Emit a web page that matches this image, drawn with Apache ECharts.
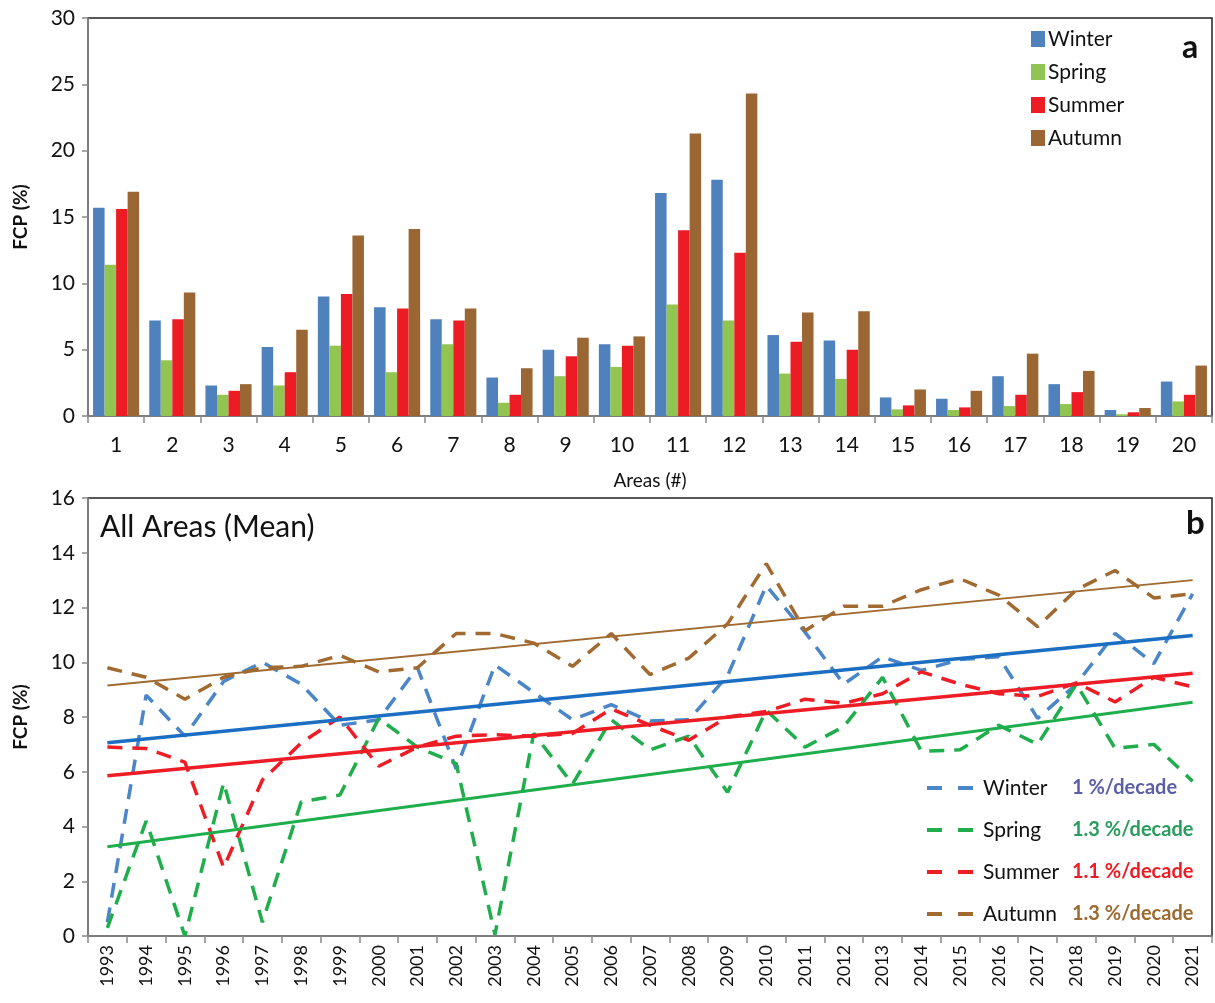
<!DOCTYPE html>
<html>
<head>
<meta charset="utf-8">
<script src="https://cdn.jsdelivr.net/npm/echarts@6/dist/echarts.min.js"></script>
<style>
html,body{margin:0;padding:0;background:#fff;}
#chart{width:1215px;height:1003px;}
</style>
</head>
<body>
<div id="chart"></div>
<script>
// ---- Panel a: FCP by area ----
const areas = ['1','2','3','4','5','6','7','8','9','10','11','12','13','14','15','16','17','18','19','20'];
const winterBars = [15.7, 7.2, 2.3, 5.2, 9.0, 8.2, 7.3, 2.9, 5.0, 5.4, 16.8, 17.8, 6.1, 5.7, 1.4, 1.3, 3.0, 2.4, 0.45, 2.6];
const springBars = [11.4, 4.2, 1.6, 2.3, 5.3, 3.3, 5.4, 1.0, 3.0, 3.7, 8.4, 7.2, 3.2, 2.8, 0.5, 0.45, 0.75, 0.9, 0.13, 1.1];
const summerBars = [15.6, 7.3, 1.9, 3.3, 9.2, 8.1, 7.2, 1.6, 4.5, 5.3, 14.0, 12.3, 5.6, 5.0, 0.8, 0.65, 1.6, 1.8, 0.28, 1.6];
const autumnBars = [16.9, 9.3, 2.4, 6.5, 13.6, 14.1, 8.1, 3.6, 5.9, 6.0, 21.3, 24.3, 7.8, 7.9, 2.0, 1.9, 4.7, 3.4, 0.6, 3.8];
const areaTicks = [0, 5, 10, 15, 20, 25, 30];

// ---- Panel b: all areas mean by year ----
const years = ['1993','1994','1995','1996','1997','1998','1999','2000','2001','2002','2003','2004','2005','2006','2007','2008','2009','2010','2011','2012','2013','2014','2015','2016','2017','2018','2019','2020','2021'];
const winterMean = [0.5, 8.8, 7.3, 9.3, 10.0, 9.2, 7.7, 7.9, 9.8, 6.1, 9.9, 8.9, 7.9, 8.45, 7.85, 7.9, 9.5, 12.8, 11.1, 9.2, 10.2, 9.7, 10.1, 10.2, 7.95, 9.2, 11.05, 9.95, 12.5];
const springMean = [0.3, 4.2, 0.0, 5.6, 0.5, 4.9, 5.15, 7.95, 6.9, 6.3, 0.05, 7.4, 5.55, 7.9, 6.8, 7.3, 5.25, 8.25, 6.9, 7.65, 9.45, 6.75, 6.8, 7.7, 7.0, 9.2, 6.85, 7.0, 5.65];
const summerMean = [6.9, 6.85, 6.35, 2.5, 5.7, 7.05, 8.0, 6.2, 6.9, 7.3, 7.35, 7.3, 7.4, 8.3, 7.7, 7.15, 8.0, 8.2, 8.65, 8.5, 8.85, 9.65, 9.2, 8.85, 8.75, 9.25, 8.55, 9.45, 9.1];
const autumnMean = [9.8, 9.45, 8.65, 9.45, 9.8, 9.85, 10.25, 9.65, 9.8, 11.05, 11.05, 10.7, 9.85, 11.05, 9.55, 10.15, 11.4, 13.6, 11.15, 12.05, 12.05, 12.65, 13.05, 12.45, 11.3, 12.65, 13.35, 12.35, 12.5];
// trend line end values (1993, 2021)
const winterTrend = [7.06, 10.98];
const springTrend = [3.26, 8.54];
const summerTrend = [5.85, 9.6];
const autumnTrend = [9.15, 13.0];
const rates = ['1 %/decade', '1.3 %/decade', '1.1 %/decade', '1.3 %/decade'];
const meanTicks = [0, 2, 4, 6, 8, 10, 12, 14, 16];

const FONT = 'Lato';
const C = {
  wBar: '#4F81BD', sBar: '#92C452', suBar: '#ED1C24', aBar: '#9A6633',
  wLine: '#4A86C8', wTrend: '#1B6EC2', sLine: '#1FAE4B', suLine: '#EE1C25', aLine: '#A06A30',
  wRate: '#5C5EA8', sRate: '#2A9C5E', suRate: '#ED1C24', aRate: '#9C6A30'
};
const DASH_ICON = 'path://M0,0 H15 V4 H0 Z M31,0 H46 V4 H31 Z';

function trendData(t){ return [[years[0], t[0]], [years[years.length-1], t[1]]]; }
function dashed(name, data, color){
  return { name: name, type: 'line', xAxisIndex: 1, yAxisIndex: 1, data: data, symbol: 'none',
    z: 3, lineStyle: { color: color, width: 3.5, type: [15, 10] }, itemStyle: { color: color } };
}
function trend(name, t, color, w){
  return { name: name, type: 'line', xAxisIndex: 1, yAxisIndex: 1, data: trendData(t), symbol: 'none',
    z: 4, lineStyle: { color: color, width: w, type: 'solid' }, silent: true };
}
function bar(name, data, color){
  return { name: name, type: 'bar', xAxisIndex: 0, yAxisIndex: 0, data: data, barGap: '0%', barCategoryGap: '18%',
    itemStyle: { color: color } };
}

const chart = echarts.init(document.getElementById('chart'), null, { renderer: 'canvas' });
const axisLineGray = { show: true, lineStyle: { color: '#8a8a8a', width: 1.5 } };
const meanNames = ['Winter mean', 'Spring mean', 'Summer mean', 'Autumn mean'];

const option = {
  backgroundColor: '#fff',
  animation: false,
  textStyle: { fontFamily: FONT },
  grid: [
    { left: 88, right: 3, top: 18, height: 398, show: true, borderColor: '#222', borderWidth: 1.5, backgroundColor: 'transparent' },
    { left: 88, right: 3, top: 498, height: 438, show: true, borderColor: '#222', borderWidth: 1.5, backgroundColor: 'transparent' }
  ],
  xAxis: [
    { type: 'category', gridIndex: 0, data: areas, boundaryGap: true,
      axisLine: axisLineGray, axisTick: { show: true, inside: false, length: 7, lineStyle: { color: '#8a8a8a', width: 1.5 } },
      axisLabel: { fontSize: 21, color: '#111', margin: 19, fontFamily: FONT },
      name: 'Areas (#)', nameLocation: 'middle', nameGap: 55,
      nameTextStyle: { fontSize: 19, color: '#111', fontFamily: FONT } },
    { type: 'category', gridIndex: 1, data: years, boundaryGap: true,
      axisLine: axisLineGray, axisTick: { show: true, inside: false, length: 7, lineStyle: { color: '#8a8a8a', width: 1.5 } },
      axisLabel: { fontSize: 18, color: '#111', rotate: 90, margin: 9, fontFamily: FONT, interval: 0 } }
  ],
  yAxis: [
    { type: 'value', gridIndex: 0, min: areaTicks[0], max: areaTicks[areaTicks.length-1], interval: 5,
      axisLine: axisLineGray, axisTick: { show: true, length: 6, lineStyle: { color: '#8a8a8a', width: 1.5 } },
      splitLine: { show: false },
      axisLabel: { fontSize: 21, color: '#111', margin: 13, fontFamily: FONT },
      name: 'FCP (%)', nameLocation: 'middle', nameGap: 58, nameRotate: 90,
      nameTextStyle: { fontSize: 19, fontWeight: 'bold', color: '#111', fontFamily: FONT } },
    { type: 'value', gridIndex: 1, min: meanTicks[0], max: meanTicks[meanTicks.length-1], interval: 2,
      axisLine: axisLineGray, axisTick: { show: true, length: 6, lineStyle: { color: '#8a8a8a', width: 1.5 } },
      splitLine: { show: false },
      axisLabel: { fontSize: 21, color: '#111', margin: 13, fontFamily: FONT },
      name: 'FCP (%)', nameLocation: 'middle', nameGap: 58, nameRotate: 90,
      nameTextStyle: { fontSize: 19, fontWeight: 'bold', color: '#111', fontFamily: FONT } }
  ],
  legend: [
    { data: ['Winter', 'Spring', 'Summer', 'Autumn'], orient: 'vertical', left: 1026, top: 23,
      icon: 'rect', itemWidth: 14, itemHeight: 16, itemGap: 11,
      textStyle: { fontSize: 21, color: '#111', fontFamily: FONT, lineHeight: 22, padding: [0,0,0,-2] } },
    { data: meanNames, orient: 'vertical', left: 922, top: 772,
      icon: DASH_ICON, itemWidth: 48, itemHeight: 4, itemGap: 20,
      formatter: function(name){
        const i = meanNames.indexOf(name);
        const keys = ['w', 's', 'su', 'a'];
        return '{n|' + name.replace(' mean', '') + '}{' + keys[i] + '|' + rates[i] + '}';
      },
      textStyle: { fontSize: 21, color: '#111', fontFamily: FONT, lineHeight: 22, padding: [0,0,0,4],
        rich: {
          n: { width: 89, fontSize: 21, color: '#111', fontFamily: FONT, lineHeight: 22 },
          w: { fontSize: 20, fontWeight: 'bold', color: C.wRate, fontFamily: FONT, lineHeight: 22 },
          s: { fontSize: 20, fontWeight: 'bold', color: C.sRate, fontFamily: FONT, lineHeight: 22 },
          su: { fontSize: 20, fontWeight: 'bold', color: C.suRate, fontFamily: FONT, lineHeight: 22 },
          a: { fontSize: 20, fontWeight: 'bold', color: C.aRate, fontFamily: FONT, lineHeight: 22 }
        } } }
  ],
  graphic: [
    { type: 'text', left: 1182, top: 32, style: { text: 'a', font: 'bold 32px ' + FONT, fill: '#111' } },
    { type: 'text', left: 1186, top: 507, style: { text: 'b', font: 'bold 33px ' + FONT, fill: '#111' } },
    { type: 'text', left: 100, top: 512, style: { text: 'All Areas (Mean)', font: '30px ' + FONT, fill: '#111' } }
  ],
  series: [
    bar('Winter', winterBars, C.wBar),
    bar('Spring', springBars, C.sBar),
    bar('Summer', summerBars, C.suBar),
    bar('Autumn', autumnBars, C.aBar),
    dashed('Winter mean', winterMean, C.wLine),
    dashed('Spring mean', springMean, C.sLine),
    dashed('Summer mean', summerMean, C.suLine),
    dashed('Autumn mean', autumnMean, C.aLine),
    trend('Winter trend', winterTrend, C.wTrend, 3.5),
    trend('Spring trend', springTrend, C.sLine, 3),
    trend('Summer trend', summerTrend, C.suLine, 3.5),
    trend('Autumn trend', autumnTrend, C.aLine, 2)
  ]
};
chart.setOption(option);
</script>
</body>
</html>
